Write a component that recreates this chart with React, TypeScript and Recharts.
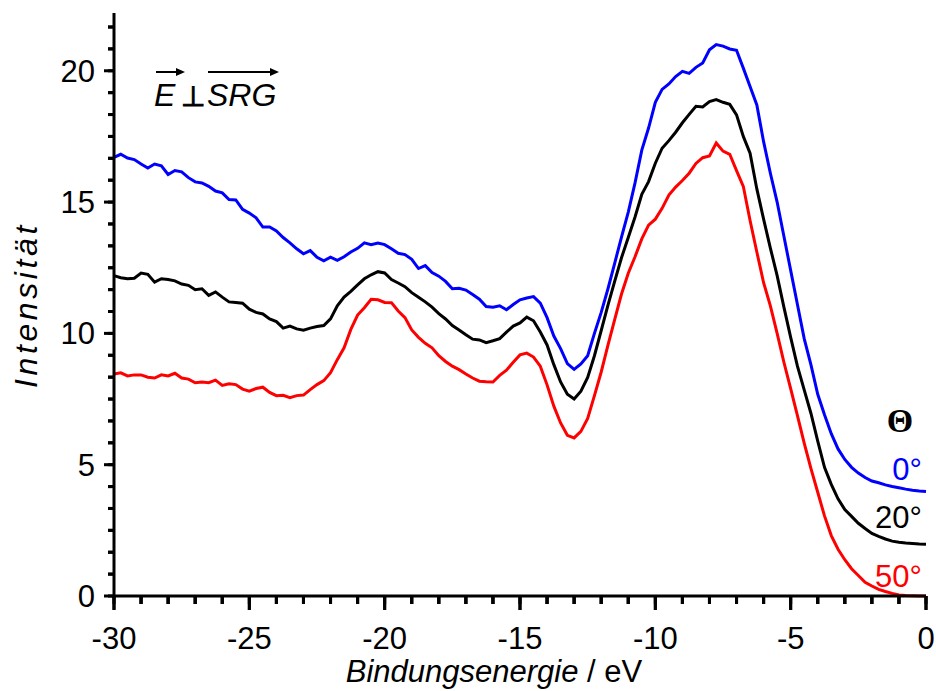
import React from "react";
import { LineChart, Line, XAxis, YAxis, ReferenceLine } from "recharts";

// Binding energy grid (eV), 0.25 eV steps from -30 to 0
const energy: number[] = [];
for (let i = 0; i <= 120; i++) energy.push(-30 + i * 0.25);

// Intensity, Theta = 0°
const theta0: number[] = [
  16.7, 16.82, 16.68, 16.62, 16.45, 16.3, 16.45, 16.38, 16.05, 16.2,
  16.15, 15.93, 15.77, 15.73, 15.6, 15.42, 15.35, 15.1, 15.08, 14.72,
  14.58, 14.4, 14.05, 14.05, 13.9, 13.65, 13.45, 13.22, 13.03, 13.15,
  12.9, 12.76, 12.9, 12.78, 12.92, 13.1, 13.24, 13.45, 13.38, 13.44,
  13.38, 13.22, 13.05, 13.0, 12.82, 12.47, 12.58, 12.32, 12.18, 11.98,
  11.7, 11.72, 11.65, 11.48, 11.3, 11.02, 11.0, 11.05, 10.9, 11.1,
  11.28, 11.35, 11.4, 11.15, 10.6, 9.9, 9.42, 8.85, 8.63, 8.84,
  9.15, 10.0, 10.8, 11.7, 12.68, 13.67, 14.62, 15.73, 16.98, 17.82,
  18.8, 19.29, 19.5, 19.78, 19.98, 19.9, 20.13, 20.3, 20.8, 21.0,
  20.94, 20.83, 20.78, 20.1, 19.4, 18.7, 17.3, 16.1, 15.0, 13.7,
  12.4, 11.1, 9.8, 8.8, 7.68, 6.9, 6.18, 5.6, 5.2, 4.9,
  4.68, 4.51, 4.38, 4.31, 4.23, 4.17, 4.12, 4.07, 4.03, 4.0,
  3.98,
];

// Intensity, Theta = 20°
const theta20: number[] = [
  12.2, 12.12, 12.08, 12.1, 12.3, 12.25, 11.95, 12.08, 12.05, 12.0,
  11.88, 11.83, 11.66, 11.7, 11.45, 11.58, 11.38, 11.2, 11.18, 11.15,
  10.92, 10.8, 10.74, 10.55, 10.45, 10.2, 10.28, 10.17, 10.12, 10.2,
  10.26, 10.3, 10.55, 11.05, 11.38, 11.6, 11.85, 12.08, 12.23, 12.35,
  12.3, 12.05, 11.92, 11.78, 11.55, 11.38, 11.2, 11.0, 10.75, 10.55,
  10.3, 10.13, 9.95, 9.78, 9.75, 9.65, 9.72, 9.8, 10.05, 10.28,
  10.4, 10.62, 10.48, 10.05, 9.56, 8.81, 8.15, 7.68, 7.5, 7.8,
  8.32, 9.15, 10.11, 11.08, 11.99, 12.88, 13.65, 14.43, 15.3, 15.78,
  16.48, 17.05, 17.34, 17.66, 18.02, 18.34, 18.65, 18.62, 18.83, 18.9,
  18.8, 18.72, 18.32, 17.5, 16.86, 15.5, 14.35, 13.25, 12.2, 11.0,
  9.85, 8.75, 7.85, 6.95, 5.9, 4.9, 4.25, 3.7, 3.29, 3.03,
  2.77, 2.57, 2.38, 2.27, 2.17, 2.09, 2.05, 2.02, 2.0, 1.98,
  1.97,
];

// Intensity, Theta = 50°
const theta50: number[] = [
  8.45, 8.5, 8.38, 8.42, 8.42, 8.33, 8.3, 8.42, 8.38, 8.48,
  8.3, 8.26, 8.12, 8.15, 8.12, 8.22, 8.02, 8.08, 8.05, 7.88,
  7.8, 7.9, 7.95, 7.75, 7.63, 7.64, 7.55, 7.63, 7.65, 7.86,
  8.05, 8.2, 8.5, 9.0, 9.45, 10.15, 10.7, 10.98, 11.3, 11.28,
  11.18, 11.17, 10.85, 10.6, 10.13, 9.85, 9.62, 9.45, 9.15, 8.93,
  8.75, 8.62, 8.45, 8.3, 8.18, 8.16, 8.15, 8.4, 8.6, 8.9,
  9.18, 9.25, 9.1, 8.75, 8.04, 7.23, 6.59, 6.12, 6.02, 6.27,
  6.76, 7.63, 8.53, 9.55, 10.53, 11.5, 12.29, 12.92, 13.6, 14.12,
  14.35, 14.76, 15.27, 15.57, 15.82, 16.1, 16.47, 16.69, 16.76, 17.25,
  16.94, 16.82, 16.2, 15.6, 14.3, 13.1, 11.93, 11.05, 10.0, 8.9,
  7.9, 6.87, 5.82, 4.85, 3.95, 3.05, 2.3, 1.78, 1.38, 1.04,
  0.78, 0.52, 0.38, 0.25, 0.17, 0.1, 0.04, 0.02, 0.01, 0.0,
  0.0,
];

const xTicks: number[] = [];
for (let v = -30; v <= 0; v++) xTicks.push(v);
const yTicks: number[] = [];
for (let i = 0; i <= 26; i++) yTicks.push((i * 5) / 6);

const seriesLabels = ["0°", "20°", "50°"];
const colors = ["#0000ff", "#000000", "#ff0000"];

const data = energy.map((e, i) => ({
  e,
  a: theta0[i],
  b: theta20[i],
  c: theta50[i],
}));

const FONT = "'Liberation Sans', Arial, Helvetica, sans-serif";
const tickStyle = { stroke: "#000000", strokeWidth: 3 };

const isMajor = (v: number) => Math.abs(v / 5 - Math.round(v / 5)) < 1e-6;

// props.x/props.y are at the outer end of the (minor-length) tick line
const renderXTick = (props: any) => {
  const x = Number(props.x);
  const y = Number(props.y);
  const v = props.payload.value;
  const major = isMajor(v);
  return (
    <g key={`xt-${v}`}>
      <rect x={x - 1.5} y={y - 8} width={3} height={major ? 14 : 8} fill="#000000" />
      {major && (
        <text x={x} y={y + 45} textAnchor="middle" fontFamily={FONT} fontSize={31} fill="#000">
          {String(v)}
        </text>
      )}
    </g>
  );
};

const renderYTick = (props: any) => {
  const x = Number(props.x);
  const y = Number(props.y);
  const v = props.payload.value;
  const major = isMajor(v);
  return (
    <g key={`yt-${v}`}>
      <rect x={major ? x - 4 : x} y={y - 1.5} width={major ? 10 : 6} height={3} fill="#000000" />
      {major && (
        <text x={x - 13} y={y + 11} textAnchor="end" fontFamily={FONT} fontSize={31} fill="#000">
          {String(Math.round(v))}
        </text>
      )}
    </g>
  );
};

export default function App() {
  return (
    <div style={{ position: "absolute", left: 0, top: 0, width: 936, height: 691, background: "#fff" }}>
      <LineChart
        width={936}
        height={691}
        data={data}
        margin={{ top: 13, right: 10, bottom: 0, left: 0 }}
      >
        <XAxis
          dataKey="e"
          type="number"
          domain={[-30, 0]}
          ticks={xTicks}
          interval={0}
          tickSize={8}
          tickMargin={0}
          height={95}
          axisLine={{ stroke: "#000", strokeWidth: 3 }}
          tickLine={tickStyle}
          tick={renderXTick}
        />
        <YAxis
          type="number"
          domain={[0, 22.2]}
          ticks={yTicks}
          interval={0}
          tickSize={6}
          tickMargin={0}
          width={114}
          axisLine={{ stroke: "#000", strokeWidth: 3 }}
          tickLine={tickStyle}
          tick={renderYTick}
        />
        {xTicks.map((v) => (
          <ReferenceLine
            key={`xr-${v}`}
            ifOverflow="visible"
            segment={[
              { x: v, y: 0 },
              { x: v, y: isMajor(v) ? -0.53 : -0.3 },
            ]}
            stroke="#000000"
            strokeWidth={3}
          />
        ))}
        <Line dataKey="a" stroke={colors[0]} strokeWidth={3} dot={false} isAnimationActive={false} type="linear" />
        <Line dataKey="b" stroke={colors[1]} strokeWidth={3} dot={false} isAnimationActive={false} type="linear" />
        <Line dataKey="c" stroke={colors[2]} strokeWidth={3} dot={false} isAnimationActive={false} type="linear" />
      </LineChart>
      <svg
        width={936}
        height={691}
        style={{ position: "absolute", left: 0, top: 0, pointerEvents: "none" }}
      >
        <text
          transform="translate(37,305) rotate(-90)"
          textAnchor="middle"
          fontFamily={FONT}
          fontStyle="italic"
          fontSize={32}
          letterSpacing={3.6}
          fill="#000"
        >
          Intensität
        </text>
        <text x={494} y={682} textAnchor="middle" fontFamily={FONT} fontSize={31} fill="#000">
          <tspan fontStyle="italic">Bindungsenergie</tspan> / eV
        </text>
        {/* E ⊥ SRG annotation */}
        <text x={154} y={106} fontFamily={FONT} fontStyle="italic" fontSize={32} fill="#000">E</text>
        <text x={181} y={106} fontFamily="'DejaVu Sans', sans-serif" fontSize={28} stroke="#000" strokeWidth={1} fill="#000">⊥</text>
        <text x={207} y={106} fontFamily={FONT} fontStyle="italic" fontSize={32} fill="#000">SRG</text>
        <line x1={156} x2={178} y1={72} y2={72} stroke="#000" strokeWidth={2} />
        <polygon points="176,68 185,72 176,76" fill="#000" />
        <line x1={208} x2={272} y1={72} y2={72} stroke="#000" strokeWidth={2} />
        <polygon points="270,68 279,72 270,76" fill="#000" />
        {/* Theta legend */}
        <text x={900} y={432} textAnchor="middle" fontFamily="'Liberation Serif', 'Times New Roman', serif" fontWeight="bold" fontSize={34} fill="#000">Θ</text>
        <text x={922} y={480} textAnchor="end" fontFamily={FONT} fontSize={31} fill={colors[0]}>{seriesLabels[0]}</text>
        <text x={922} y={528} textAnchor="end" fontFamily={FONT} fontSize={31} fill={colors[1]}>{seriesLabels[1]}</text>
        <text x={922} y={587} textAnchor="end" fontFamily={FONT} fontSize={31} fill={colors[2]}>{seriesLabels[2]}</text>
      </svg>
    </div>
  );
}
